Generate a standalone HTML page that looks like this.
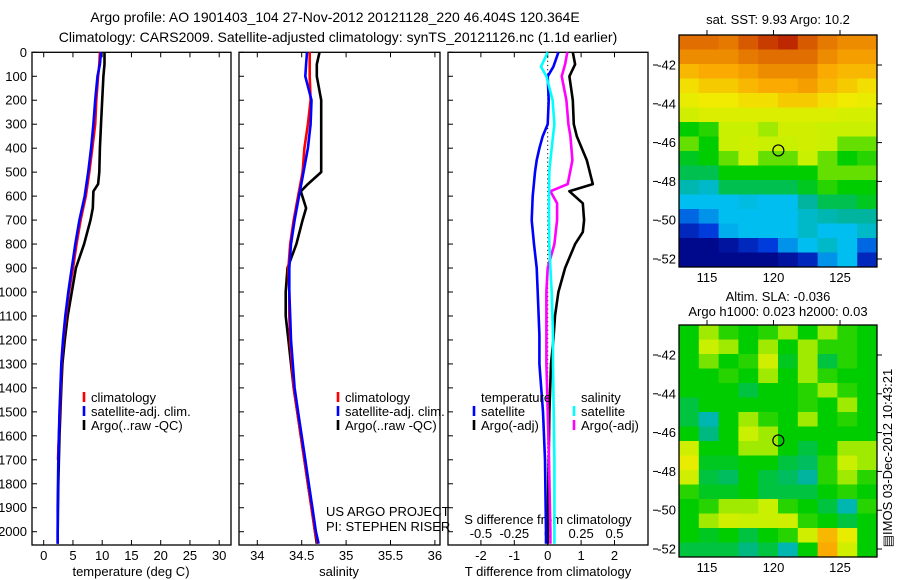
<!DOCTYPE html>
<html><head><meta charset="utf-8"><style>
body{margin:0;background:#fff;}
svg{display:block;font-family:"Liberation Sans",sans-serif;}
text{font-size:13px;fill:#000;}
</style></head><body>
<svg id="c" width="900" height="580" viewBox="0 0 900 580">
<text x="335" y="22" text-anchor="middle" style="font-size:14px">Argo profile: AO 1901403_104 27-Nov-2012 20121128_220 46.404S 120.364E</text>
<text x="338" y="42" text-anchor="middle" style="font-size:14px">Climatology: CARS2009. Satellite-adjusted climatology: synTS_20121126.nc (1.1d earlier)</text>
</svg>
<script>
// ---- profile data ----
const depthStd=[0,50,100,200,300,400,500,600,700,800,900,1000,1100,1200,1300,1400,1500,1600,1700,1800,1900,2000,2050];
const tempClim=[9.6,9.5,9.3,9.0,8.8,8.3,7.8,7.2,6.3,5.6,5.0,4.3,3.8,3.35,3.05,2.9,2.75,2.6,2.45];
const tempSat=[9.8,9.6,9.2,8.8,8.5,8.1,7.6,7.0,6.1,5.4,4.8,4.2,3.7,3.3,3.0,2.85,2.7,2.6,2.5,2.45,2.4,2.4,2.4];
const argoDepth=[0,50,100,200,300,400,500,550,580,650,700,800,900,1000,1100,1200,1300,1400,1500,1600,1700,1800,1900,2000,2050];
const argoTemp=[10.4,10.4,10.2,10.0,9.8,9.6,9.5,9.3,8.5,8.4,8.0,6.9,5.5,4.8,4.1,3.6,3.2,3.0,2.85,2.7,2.6,2.5,2.45,2.4,2.4];
const argoSal=[34.70,34.67,34.67,34.72,34.72,34.72,34.72,34.57,34.49,34.55,34.51,34.44,34.34,34.32,34.32,34.35,34.38,34.41,34.45,34.49,34.53,34.57,34.61,34.65,34.67];
const salClim=[34.59,34.59,34.59,34.60,34.57,34.53,34.51,34.46,34.41,34.37,34.35,34.36,34.36,34.37,34.39,34.41,34.45,34.49,34.53,34.57,34.61,34.65,34.68];
const salSat=[34.56,34.55,34.54,34.61,34.60,34.57,34.52,34.47,34.42,34.38,34.36,34.36,34.37,34.38,34.40,34.42,34.46,34.50,34.54,34.58,34.62,34.66,34.69];
const diffDepth=[0,50,100,200,300,350,450,550,580,630,700,750,800,900,1000,1100,1200,1300,1500,1700,2000,2050];
const argoTdiff=[0.75,0.82,0.65,0.75,0.78,0.87,1.17,1.35,0.65,1.05,1.09,1.05,0.82,0.52,0.32,0.22,0.17,0.1,0.05,0.03,0.0,0.0];
const argoSdiff=[0.147,0.13,0.105,0.14,0.155,0.17,0.185,0.15,0.02,0.07,0.07,0.06,0.05,0.0,-0.01,-0.01,-0.01,-0.01,0.0,0.01,0.02,0.02];
const satDepth=[0,60,100,200,300,350,400,450,500,600,700,800,900,1000,1180,1300,1500,1700,2000,2050];
const satTdiff=[0.32,0.17,0,0.03,0,-0.15,-0.25,-0.33,-0.38,-0.45,-0.48,-0.41,-0.33,-0.3,-0.25,-0.25,-0.14,-0.08,-0.05,-0.05];
const satSdiff=[0,-0.05,-0.01,0.037,0.05,0.04,0.03,0.02,0.012,0.01,0.01,0.012,0.02,0.03,0.04,0.04,0.045,0.05,0.05,0.05];
const depthTicks=[0,100,200,300,400,500,600,700,800,900,1000,1100,1200,1300,1400,1500,1600,1700,1800,1900,2000];
const tempTicks=[0,5,10,15,20,25,30];
const salTicks=["34","34.5","35","35.5","36"];
const tdTicks=["-2","-1","0","1","2"];
const sdTicks=["-0.5","-0.25","0","0.25","0.5"];
// ---- map data (colour index 0=navy .. 1=dark red) ----
const sstGrid=[
[0.9,0.9,0.88,0.92,0.95,0.97,0.92,0.88,0.85,0.85],
[0.85,0.85,0.85,0.88,0.9,0.9,0.9,0.85,0.82,0.82],
[0.78,0.8,0.8,0.82,0.85,0.85,0.85,0.8,0.78,0.78],
[0.72,0.75,0.75,0.78,0.8,0.8,0.82,0.78,0.75,0.72],
[0.68,0.7,0.7,0.72,0.72,0.75,0.75,0.72,0.7,0.68],
[0.62,0.65,0.65,0.65,0.65,0.65,0.65,0.65,0.63,0.63],
[0.5,0.52,0.6,0.6,0.58,0.62,0.62,0.6,0.6,0.6],
[0.55,0.5,0.6,0.62,0.6,0.6,0.62,0.6,0.55,0.55],
[0.48,0.5,0.55,0.6,0.55,0.55,0.6,0.55,0.5,0.52],
[0.45,0.45,0.5,0.5,0.5,0.5,0.5,0.55,0.55,0.55],
[0.38,0.35,0.45,0.45,0.45,0.45,0.48,0.52,0.5,0.5],
[0.3,0.3,0.3,0.32,0.3,0.3,0.4,0.45,0.45,0.48],
[0.2,0.25,0.3,0.3,0.3,0.3,0.35,0.38,0.4,0.4],
[0.1,0.15,0.28,0.3,0.3,0.3,0.35,0.3,0.3,0.35],
[0.02,0.02,0.05,0.1,0.15,0.25,0.3,0.35,0.3,0.2],
[0.02,0.02,0.02,0.02,0.02,0.05,0.1,0.25,0.3,0.1]];
const slaGrid=[
[.5,.58,.52,.5,.52,.58,.5,.58,.52,.5],
[.5,.6,.58,.5,.58,.5,.58,.52,.52,.5],
[.5,.56,.5,.52,.62,.48,.58,.46,.52,.5],
[.5,.5,.52,.5,.58,.5,.58,.52,.5,.5],
[.5,.5,.5,.46,.5,.5,.52,.58,.52,.5],
[.46,.5,.5,.5,.5,.5,.52,.5,.58,.5],
[.46,.38,.5,.58,.52,.5,.58,.5,.52,.5],
[.5,.42,.5,.6,.58,.5,.5,.5,.5,.5],
[.62,.5,.5,.58,.58,.5,.46,.5,.58,.58],
[.68,.48,.48,.5,.5,.46,.44,.52,.6,.58],
[.62,.46,.44,.5,.46,.44,.4,.52,.58,.52],
[.52,.48,.48,.5,.46,.46,.46,.5,.52,.5],
[.5,.52,.58,.58,.6,.52,.5,.46,.38,.52],
[.5,.58,.62,.6,.6,.62,.52,.5,.46,.5],
[.5,.48,.5,.46,.5,.52,.62,.78,.68,.5],
[.46,.46,.46,.42,.46,.38,.5,.8,.62,.5]];
const latTicks=[-42,-44,-46,-48,-50,-52];
const lonTicks=[115,120,125];
const argoPos=[120.364,-46.404];

const NS="http://www.w3.org/2000/svg";
const svg=document.getElementById('c');
function el(t,a,txt){const e=document.createElementNS(NS,t);for(const k in a)e.setAttribute(k,a[k]);if(txt!==undefined)e.textContent=txt;svg.appendChild(e);return e;}
const Y0=52.3,YK=0.2397;
const yD=d=>Y0+d*YK;
const PT=545;
function frame(x0,x1,name){
  const r=el('rect',{x:x0,y:Y0,width:x1-x0,height:PT-Y0,fill:'none',stroke:'#000','stroke-width':1.3});
  
  
  depthTicks.forEach(d=>{const t=el('line',{x1:x0,x2:x0+5,y1:yD(d),y2:yD(d),stroke:'#000'});
    
    });
}
function poly(xs,ys,fx,color,name,w){
  const pts=xs.map((v,i)=>fx(v).toFixed(1)+','+yD(ys[i]).toFixed(1)).join(' ');
  const p=el('polyline',{points:pts,fill:'none',stroke:color,'stroke-width':w||2.6,'stroke-linejoin':'round'});
  
  
}
// panel 1 temperature
const xT=v=>43.7+v*5.85;
frame(32,231,'temperature-panel');
depthTicks.forEach(d=>{const t=el('text',{x:27,y:yD(d)+4.5,'text-anchor':'end'},String(d));
  
  });
tempTicks.forEach(v=>{
  el('line',{x1:xT(v),x2:xT(v),y1:PT,y2:PT-5,stroke:'#000'});el('line',{x1:xT(v),x2:xT(v),y1:Y0,y2:Y0+5,stroke:'#000'});
  const t=el('text',{x:xT(v),y:560,'text-anchor':'middle'},String(v));
  
  });
el('text',{x:131,y:576,'text-anchor':'middle',},'temperature (deg C)');
poly(argoTemp,argoDepth,xT,'#000','argo-temperature-line');
poly(tempClim,depthStd.slice(0,tempClim.length),xT,'#f00','climatology-temperature-line');
poly(tempSat,depthStd,xT,'#00f','satellite-temperature-line');
// panel 2 salinity
const xS=v=>257.3+(v-34)*88.8;
frame(239,440,'salinity-panel');
salTicks.forEach(s=>{const v=parseFloat(s);
  el('line',{x1:xS(v),x2:xS(v),y1:PT,y2:PT-5,stroke:'#000'});el('line',{x1:xS(v),x2:xS(v),y1:Y0,y2:Y0+5,stroke:'#000'});
  const t=el('text',{x:xS(v),y:560,'text-anchor':'middle'},s);
  
  });
el('text',{x:339,y:576,'text-anchor':'middle',},'salinity');
poly(argoSal,argoDepth,xS,'#000','argo-salinity-line');
poly(salClim,depthStd,xS,'#f00','climatology-salinity-line');
poly(salSat,depthStd,xS,'#00f','satellite-salinity-line');
el('text',{x:326,y:516,},'US ARGO PROJECT');
el('text',{x:326,y:531,},'PI: STEPHEN RISER');
// legends
function legend(x,y,items,name){items.forEach((it,i)=>{
  const b=el('line',{x1:x,x2:x,y1:y+i*14-10,y2:y+i*14,stroke:it[0],'stroke-width':2.6});
  
  
  const t=el('text',{x:x+7,y:y+i*14},it[1]);
  
  });}
legend(84,402,[['#f00','climatology'],['#00f','satellite-adj. clim.'],['#000','Argo(..raw -QC)']],'temperature-legend');
legend(338,402,[['#f00','climatology'],['#00f','satellite-adj. clim.'],['#000','Argo(..raw -QC)']],'salinity-legend');
// panel 3 differences
const xTd=v=>547.7+v*33.4;
const xSd=v=>547.7+v*133.6;
frame(448,648,'difference-panel');
tdTicks.forEach(s=>{const v=parseFloat(s);
  el('line',{x1:xTd(v),x2:xTd(v),y1:PT,y2:PT-5,stroke:'#000'});el('line',{x1:xTd(v),x2:xTd(v),y1:Y0,y2:Y0+5,stroke:'#000'});
  const t=el('text',{x:xTd(v),y:560,'text-anchor':'middle'},s);
  
  });
sdTicks.forEach(s=>{const v=parseFloat(s);
  const t=el('text',{x:xSd(v),y:538,'text-anchor':'middle'},s);
  
  });
el('text',{x:548,y:524,'text-anchor':'middle',},'S difference from climatology');
el('text',{x:548,y:576,'text-anchor':'middle',},'T difference from climatology');
el('line',{x1:547.7,x2:547.7,y1:Y0,y2:PT,stroke:'#000','stroke-dasharray':'1.2,3',});
poly(argoTdiff,diffDepth,xTd,'#000','argo-t-diff-line');
poly(satTdiff,satDepth,xTd,'#00f','satellite-t-diff-line');
poly(argoSdiff,diffDepth,xSd,'#f0f','argo-s-diff-line');
poly(satSdiff,satDepth,xSd,'#0ff','satellite-s-diff-line');
el('text',{x:481,y:402,},'temperature');
el('text',{x:581,y:402,},'salinity');
legend(474,416,[['#00f','satellite'],['#000','Argo(-adj)']],'t-diff-legend');
legend(574,416,[['#0ff','satellite'],['#f0f','Argo(-adj)']],'s-diff-legend');
// ---- maps ----
const cmap=[[0,[0,0,128]],[0.15,[0,60,220]],[0.3,[0,190,240]],[0.4,[0,180,160]],[0.5,[0,205,0]],[0.6,[200,240,0]],[0.7,[240,235,0]],[0.8,[250,170,0]],[0.9,[225,110,0]],[1,[175,10,0]]];
function col(v){for(let i=1;i<cmap.length;i++){if(v<=cmap[i][0]){const a=cmap[i-1],b=cmap[i],t=(v-a[0])/(b[0]-a[0]);
  return 'rgb('+a[1].map((c,k)=>Math.round(c+(b[1][k]-c)*t)).join(',')+')';}}return 'rgb(175,10,0)';}
function drawMap(grid,top,name){
  const L=679,R=877,T=top,B=top+232;
  const lonX=lo=>707+(lo-115)*13.3, latY=la=>top+30+(-42-la)*19.4;
  const nr=grid.length,nc=grid[0].length,cw=(R-L)/nc,ch=(B-T)/nr;
  grid.forEach((row,r)=>row.forEach((v,c)=>{
    const cell=el('rect',{x:L+c*cw,y:T+r*ch,width:cw+0.5,height:ch+0.5,fill:col(v)});
    
    }));
  const f=el('rect',{x:L,y:T,width:R-L,height:B-T,fill:'none',stroke:'#000','stroke-width':1.3});
  
  
  latTicks.forEach(la=>{const y=latY(la);
    el('line',{x1:653,x2:658,y1:y,y2:y,stroke:'#000'});
    el('line',{x1:R,x2:R+5,y1:y,y2:y,stroke:'#000'});
    const t=el('text',{x:676,y:y+4.5,'text-anchor':'end'},String(la));
    
    });
  lonTicks.forEach(lo=>{const x=lonX(lo);
    el('line',{x1:x,x2:x,y1:T,y2:T-5,stroke:'#000'});
    const t=el('text',{x:x,y:B+15,'text-anchor':'middle'},String(lo));
    
    });
  const c=el('circle',{cx:lonX(argoPos[0]),cy:latY(argoPos[1]),r:5.5,fill:'none',stroke:'#000','stroke-width':1.2});
  
  
}
drawMap(sstGrid,35,'sst-map');
drawMap(slaGrid,325,'sla-map');
el('text',{x:778,y:24,'text-anchor':'middle',},'sat. SST: 9.93 Argo: 10.2');
el('text',{x:778,y:301,'text-anchor':'middle',},'Altim. SLA: -0.036');
el('text',{x:778,y:316,'text-anchor':'middle',},'Argo h1000: 0.023 h2000: 0.03');
el('text',{x:0,y:0,transform:'translate(892,458) rotate(-90)','text-anchor':'middle',},'\u25A4IMOS 03-Dec-2012 10:43:21');
</script>
</body></html>
